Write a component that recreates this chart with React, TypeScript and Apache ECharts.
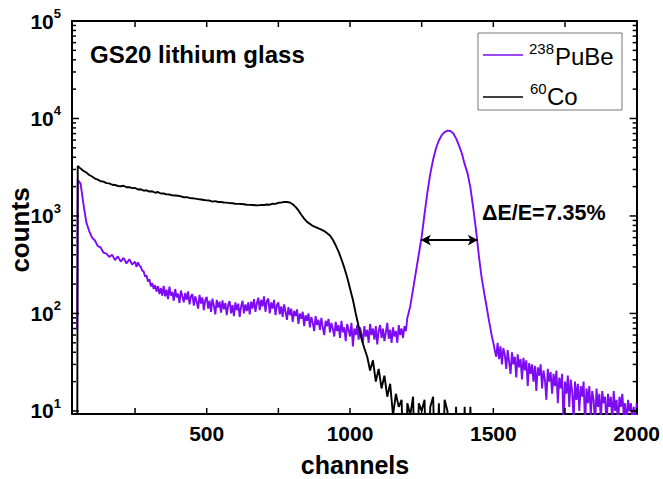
import React, { useEffect, useRef } from 'react';
import * as echarts from 'echarts';

// 238PuBe spectrum: [channel, counts]
const pubeSpectrum: number[][] = [
  [48, 68], [50, 2350], [60, 2150], [70, 1320], [80, 860], [90, 700], [100, 600], [110, 560], [120, 490], [130, 475], [140, 420],
  [150, 410], [160, 380], [170, 400], [180, 352], [190, 385], [200, 340], [210, 372], [220, 325], [230, 360], [240, 318],
  [250, 340], [255, 300], [260, 335], [265, 310], [270, 300], [275, 275], [280, 270], [285, 240], [290, 245], [295, 212],
  [300, 225], [305, 190], [310, 205], [315, 178], [320, 195], [325, 168], [330, 190], [335, 158], [340, 182], [345, 152],
  [350, 192], [355, 150], [360, 175], [365, 140], [370, 188], [375, 152], [380, 166], [385, 135], [390, 178], [395, 146],
  [400, 160], [405, 128], [410, 172], [415, 150], [420, 130], [425, 162], [430, 138], [435, 168], [440, 124], [445, 150],
  [450, 158], [455, 120], [460, 150], [465, 132], [470, 112], [475, 155], [480, 126], [485, 146], [490, 108], [495, 138],
  [500, 148], [505, 112], [510, 135], [515, 104], [520, 142], [525, 120], [530, 98], [535, 138], [540, 115], [545, 132],
  [550, 102], [555, 136], [560, 110], [565, 128], [570, 96], [575, 124], [580, 134], [585, 100], [590, 122], [595, 94],
  [600, 130], [605, 108], [610, 126], [615, 92], [620, 118], [625, 135], [630, 100], [635, 124], [640, 106], [645, 130],
  [650, 98], [655, 132], [660, 112], [665, 140], [670, 104], [675, 128], [680, 145], [685, 108], [690, 138], [695, 118],
  [700, 150], [705, 104], [710, 134], [715, 142], [720, 100], [725, 130], [730, 112], [735, 138], [740, 96], [745, 122],
  [750, 130], [755, 98], [760, 118], [765, 92], [770, 124], [775, 104], [780, 86], [785, 116], [790, 96], [795, 112],
  [800, 82], [805, 106], [810, 94], [815, 110], [820, 78], [825, 100], [830, 88], [835, 104], [840, 74], [845, 96],
  [850, 84], [855, 100], [860, 72], [865, 92], [870, 80], [875, 66], [880, 94], [885, 76], [890, 86], [895, 68],
  [900, 90], [905, 72], [910, 60], [915, 84], [920, 74], [925, 88], [930, 64], [935, 80], [940, 70], [945, 58],
  [950, 82], [955, 66], [960, 76], [965, 56], [970, 84], [975, 64], [980, 72], [985, 52], [990, 78], [995, 68],
  [1000, 58], [1005, 80], [1010, 46], [1015, 70], [1020, 60], [1025, 76], [1030, 54], [1035, 72], [1040, 62], [1045, 50],
  [1050, 74], [1055, 58], [1060, 68], [1065, 50], [1070, 78], [1075, 60], [1080, 70], [1085, 54], [1090, 74], [1095, 48],
  [1100, 66], [1105, 76], [1110, 56], [1115, 70], [1120, 52], [1125, 64], [1130, 80], [1135, 55], [1140, 68], [1145, 50],
  [1150, 72], [1155, 58], [1160, 66], [1165, 50], [1170, 76], [1175, 60], [1180, 70], [1185, 56], [1190, 74], [1195, 66],
  [1200, 90], [1210, 118], [1220, 178], [1230, 268], [1240, 405], [1250, 610], [1260, 1050], [1270, 1750], [1280, 2700], [1290, 3800],
  [1300, 4950], [1310, 5950], [1320, 6750], [1330, 7250], [1340, 7500], [1350, 7450], [1360, 7050], [1370, 6250], [1380, 5300], [1390, 4400],
  [1400, 3400], [1410, 2750], [1420, 1950], [1430, 1200], [1440, 700],
  [1450, 380], [1455, 290], [1460, 225], [1465, 185], [1470, 150], [1475, 125], [1480, 102], [1485, 84], [1490, 70], [1495, 58],
  [1500, 50], [1505, 42], [1510, 36], [1515, 50], [1520, 34], [1525, 46], [1530, 30], [1535, 44], [1540, 38], [1545, 27],
  [1550, 42], [1555, 32], [1560, 24], [1565, 40], [1570, 30], [1575, 36], [1580, 22], [1585, 38], [1590, 28], [1595, 34],
  [1600, 21], [1605, 35], [1610, 26], [1615, 33], [1620, 18], [1625, 31], [1630, 24], [1635, 30], [1640, 20], [1645, 29],
  [1650, 16], [1655, 28], [1660, 23], [1665, 30], [1670, 17], [1675, 26], [1680, 21], [1685, 13], [1690, 27], [1695, 20],
  [1700, 25], [1705, 15], [1710, 24], [1715, 18], [1720, 26], [1725, 12], [1730, 22], [1735, 17], [1740, 24], [1745, 7],
  [1750, 20], [1755, 15], [1760, 23], [1765, 11], [1770, 21], [1775, 16], [1780, 8], [1785, 20], [1790, 13], [1795, 19],
  [1800, 10], [1805, 18], [1810, 14], [1815, 20], [1820, 7], [1825, 17], [1830, 12], [1835, 18], [1840, 9], [1845, 16],
  [1850, 13], [1855, 7], [1860, 17], [1865, 11], [1870, 15], [1875, 8], [1880, 16], [1885, 12], [1890, 14], [1895, 7],
  [1900, 15], [1905, 11], [1910, 14], [1915, 8], [1920, 16], [1925, 10], [1930, 13], [1935, 7], [1940, 14], [1945, 11],
  [1950, 15], [1955, 9], [1960, 12], [1965, 7], [1970, 13], [1975, 10], [1980, 12], [1985, 8], [1990, 11], [1995, 7],
  [2000, 12],
];

// 60Co spectrum: channels and counts (1 = empty channel, below the axis floor)
const coChannels = [48,
  50, 60, 70, 80, 90, 100, 110, 120, 130, 140,
  150, 160, 170, 180, 190, 200, 210, 220, 230, 240,
  250, 260, 270, 280, 290, 300, 310, 320, 330, 340,
  350, 360, 370, 380, 390, 400, 410, 420, 430, 440,
  450, 460, 470, 480, 490, 500, 510, 520, 530, 540,
  550, 560, 570, 580, 590, 600, 610, 620, 630, 640,
  650, 660, 670, 680, 690, 700, 710, 720, 730, 740,
  750, 760, 770, 780, 790, 800, 810, 820, 830, 840,
  850, 860, 870, 880, 890, 900, 910, 920, 930, 940,
  950, 960, 970, 980, 990, 1000, 1010, 1020, 1030, 1040,
  1050, 1060, 1070, 1080, 1090, 1100, 1110, 1120, 1130, 1140,
  1150, 1160, 1170, 1180, 1190, 1200, 1210, 1220, 1230, 1240,
  1250, 1260, 1270, 1280, 1290, 1300, 1310, 1320, 1330, 1340,
  1350, 1360, 1370, 1380, 1390, 1400, 1410, 1420, 1430, 1440,
  1500, 2000];
const coCounts = [1,
  3250, 3060, 2900, 2790, 2630, 2540, 2420, 2360, 2270, 2250,
  2170, 2160, 2090, 2080, 2030, 2020, 2040, 1970, 1975, 1930,
  1935, 1870, 1880, 1820, 1835, 1780, 1790, 1730, 1760, 1700,
  1700, 1665, 1660, 1625, 1620, 1610, 1590, 1555, 1560, 1530,
  1520, 1505, 1490, 1475, 1460, 1445, 1440, 1405, 1420, 1390,
  1390, 1375, 1370, 1355, 1350, 1335, 1330, 1325, 1320, 1305,
  1300, 1295, 1290, 1285, 1300, 1295, 1310, 1305, 1335, 1330,
  1365, 1370, 1395, 1390, 1375, 1320, 1240, 1140, 1030, 940,
  870, 830, 790, 770, 745, 725, 700, 665, 630, 570,
  500, 430, 360, 295, 235, 180, 138, 100, 74, 55,
  44, 36, 26, 33, 20, 27, 17, 23, 14, 19,
  9, 15, 11, 13, 1, 12, 9, 14, 1, 12,
  10, 13, 1, 11, 14, 1, 12, 1, 13, 10,
  1, 1, 11, 1, 1, 11, 1, 11, 1, 1,
  1, 1];

const xTickValues = [250, 500, 750, 1000, 1250, 1500, 1750, 2000];
const xLabelValues = [500, 1000, 1500, 2000];
const yMajorValues = [10, 100, 1000, 10000, 100000];
const yMinorValues = [
  20, 30, 40, 50, 60, 70, 80, 90,
  200, 300, 400, 500, 600, 700, 800, 900,
  2000, 3000, 4000, 5000, 6000, 7000, 8000, 9000,
  20000, 30000, 40000, 50000, 60000, 70000, 80000, 90000];

// resolution arrow (channel from, channel to, counts level)
const arrowFrom = 1247;
const arrowTo = 1446;
const arrowLevel = 566;

const X_MIN = 30;
const X_MAX = 2000;
const Y_MIN = 9.3;
const Y_MAX = 100000;

const FONT = '"Liberation Sans", Arial, Helvetica, sans-serif';
const PURPLE = '#7d0cf5';

export default function App() {
  const ref = useRef<HTMLDivElement>(null);

  useEffect(() => {
    if (!ref.current) return;
    const chart = echarts.init(ref.current, null, { renderer: 'svg' });

    const coData = coChannels.map((c, i) => [c, coCounts[i]]);

    const axisLine = { show: true, onZero: false, lineStyle: { color: '#000', width: 2 } };

    const yLabelFmt = (v: number) => {
      const l = Math.log10(v);
      const e = Math.round(l);
      if (Math.abs(l - e) > 0.01) return '';
      return `{b|10}{s|${e}}`;
    };

    const xAxisBase = {
      type: 'value',
      min: X_MIN,
      max: X_MAX,
      axisLine,
      axisTick: { show: false },
      splitLine: { show: false },
    };

    const yAxisBase = {
      type: 'log',
      min: Y_MIN,
      max: Y_MAX,
      axisLine,
      axisTick: { show: false },
      splitLine: { show: false },
      minorTick: { show: false },
    };

    const textGraphics: any[] = [
      {
        type: 'text',
        x: 90,
        y: 54,
        style: { text: 'GS20 lithium glass', font: `bold 24px ${FONT}`, fill: '#000', textVerticalAlign: 'middle' },
      },
      {
        type: 'text',
        x: 482,
        y: 213,
        style: { text: 'ΔE/E=7.35%', font: `bold 21.5px ${FONT}`, fill: '#000', textVerticalAlign: 'middle' },
      },
      {
        type: 'text',
        x: 355,
        y: 465,
        style: { text: 'channels', font: `bold 25px ${FONT}`, fill: '#000', textAlign: 'center', textVerticalAlign: 'middle' },
      },
      {
        type: 'text',
        x: 20,
        y: 230,
        rotation: Math.PI / 2,
        style: { text: 'counts', font: `bold 26px ${FONT}`, fill: '#000', textAlign: 'center', textVerticalAlign: 'middle' },
      },
      {
        type: 'rect',
        shape: { x: 478, y: 33, width: 144, height: 77 },
        style: { fill: '#fff', stroke: '#777', lineWidth: 1 },
        z: 10,
      },
      {
        type: 'line',
        shape: { x1: 483, y1: 55, x2: 523, y2: 55 },
        style: { stroke: PURPLE, lineWidth: 1.6 },
        z: 11,
      },
      {
        type: 'line',
        shape: { x1: 483, y1: 97, x2: 523, y2: 97 },
        style: { stroke: '#000', lineWidth: 1.6 },
        z: 11,
      },
      {
        type: 'text',
        x: 529,
        y: 48,
        style: { text: '238', font: `15px ${FONT}`, fill: '#000', textVerticalAlign: 'middle' },
        z: 11,
      },
      {
        type: 'text',
        x: 555,
        y: 56,
        style: { text: 'PuBe', font: `24px ${FONT}`, fill: '#000', textVerticalAlign: 'middle' },
        z: 11,
      },
      {
        type: 'text',
        x: 530,
        y: 88,
        style: { text: '60', font: `15px ${FONT}`, fill: '#000', textVerticalAlign: 'middle' },
        z: 11,
      },
      {
        type: 'text',
        x: 547,
        y: 96,
        style: { text: 'Co', font: `24px ${FONT}`, fill: '#000', textVerticalAlign: 'middle' },
        z: 11,
      },
    ];

    chart.setOption({
      animation: false,
      backgroundColor: '#fff',
      grid: { left: 72, top: 21, width: 565, height: 393, containLabel: false },
      xAxis: [
        {
          ...xAxisBase,
          position: 'bottom',
          axisLabel: {
            customValues: xLabelValues,
            formatter: (v: number) => String(v),
            margin: 9,
            fontSize: 21,
            fontWeight: 'bold',
            color: '#000',
            fontFamily: FONT,
          },
        },
        {
          ...xAxisBase,
          position: 'top',
          axisLabel: { show: false },
        },
      ],
      yAxis: [
        {
          ...yAxisBase,
          position: 'left',
          axisLabel: {
            customValues: yMajorValues,
            margin: 11,
            formatter: yLabelFmt,
            rich: {
              b: { fontSize: 21, fontWeight: 'bold', color: '#000', fontFamily: FONT, lineHeight: 28 },
              s: { fontSize: 13, fontWeight: 'bold', color: '#000', fontFamily: FONT, verticalAlign: 'top', lineHeight: 13 },
            },
          },
        },
        {
          ...yAxisBase,
          position: 'right',
          axisLabel: { show: false },
        },
      ],
      series: [
        {
          name: '238PuBe',
          type: 'line',
          xAxisIndex: 0,
          yAxisIndex: 0,
          data: pubeSpectrum,
          showSymbol: false,
          symbol: 'none',
          clip: true,
          lineStyle: { color: PURPLE, width: 1.9 },
          itemStyle: { color: PURPLE },
          emphasis: { disabled: true },
          z: 2,
        },
        {
          name: '60Co',
          type: 'line',
          xAxisIndex: 0,
          yAxisIndex: 0,
          data: coData,
          showSymbol: false,
          symbol: 'none',
          clip: true,
          lineStyle: { color: '#000', width: 1.9 },
          itemStyle: { color: '#000' },
          emphasis: { disabled: true },
          z: 3,
          markLine: {
            silent: true,
            symbol: ['arrow', 'arrow'],
            symbolSize: [8, 10],
            label: { show: false },
            lineStyle: { color: '#000', width: 1.8, type: 'solid' },
            emphasis: { disabled: true },
            data: [[{ coord: [arrowFrom, arrowLevel] }, { coord: [arrowTo, arrowLevel] }]],
          },
        },
      ],
      graphic: textGraphics,
    });

    // inward ticks on all four sides, positioned through the axes' scales
    const px = (x: number, y: number): number[] =>
      chart.convertToPixel({ xAxisIndex: 0, yAxisIndex: 0 } as any, [x, y]) as number[];
    const tickStyle = { stroke: '#000', lineWidth: 1.5 };
    const tickGraphics: any[] = [];
    const xTickLen = 6;
    xTickValues.forEach((v) => {
      const b = px(v, Y_MIN);
      const t = px(v, Y_MAX);
      if (!b || !t) return;
      tickGraphics.push({ type: 'line', silent: true, z: 20, shape: { x1: b[0], y1: b[1], x2: b[0], y2: b[1] - xTickLen }, style: tickStyle });
      tickGraphics.push({ type: 'line', silent: true, z: 20, shape: { x1: t[0], y1: t[1], x2: t[0], y2: t[1] + xTickLen }, style: tickStyle });
    });
    const addY = (vals: number[], len: number) => {
      vals.forEach((v) => {
        const l = px(X_MIN, v);
        const r = px(X_MAX, v);
        if (!l || !r) return;
        tickGraphics.push({ type: 'line', silent: true, z: 20, shape: { x1: l[0], y1: l[1], x2: l[0] + len, y2: l[1] }, style: tickStyle });
        tickGraphics.push({ type: 'line', silent: true, z: 20, shape: { x1: r[0], y1: r[1], x2: r[0] - len, y2: r[1] }, style: tickStyle });
      });
    };
    addY(yMajorValues, 7);
    addY(yMinorValues, 4);

    chart.setOption({ graphic: [...textGraphics, ...tickGraphics] });

    return () => {
      chart.dispose();
    };
  }, []);

  return (
    <div
      ref={ref}
      style={{ position: 'fixed', left: 0, top: 0, width: 663, height: 479, background: '#fff' }}
    />
  );
}
